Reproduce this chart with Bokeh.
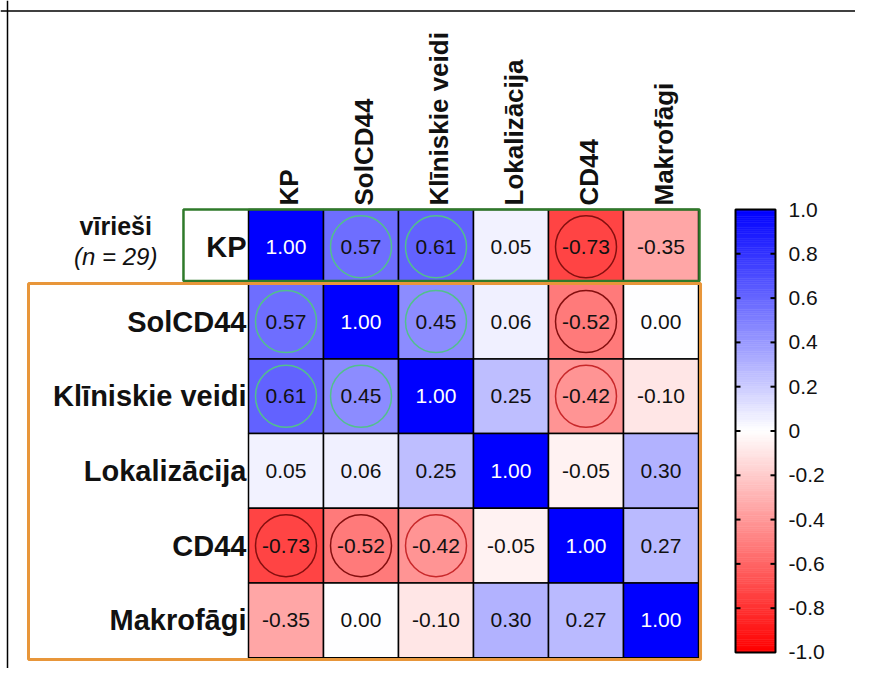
import numpy as np
from bokeh.plotting import figure
from bokeh.models import Range1d, ColumnDataSource, Span, LinearColorMapper
from bokeh.core.properties import value
from bokeh.embed import file_html
from bokeh.resources import INLINE

# ---------------- data ----------------
labels = ["KP", "SolCD44", "Klīniskie veidi", "Lokalizācija", "CD44", "Makrofāgi"]
r_kp = [1.00, 0.57, 0.61, 0.05, -0.73, -0.35]
r_solcd44 = [0.57, 1.00, 0.45, 0.06, -0.52, 0.00]
r_klin = [0.61, 0.45, 1.00, 0.25, -0.42, -0.10]
r_lok = [0.05, 0.06, 0.25, 1.00, -0.05, 0.30]
r_cd44 = [-0.73, -0.52, -0.42, -0.05, 1.00, 0.27]
r_makr = [-0.35, 0.00, -0.10, 0.30, 0.27, 1.00]
matrix = [r_kp, r_solcd44, r_klin, r_lok, r_cd44, r_makr]
# significant pairs (row, col) with circle colour class
sig_pairs = [(0, 1, "pos"), (0, 2, "pos"), (0, 4, "neg1"),
             (1, 2, "pos"), (1, 4, "neg1"), (2, 4, "neg2")]
cbar_ticks = [1.0, 0.8, 0.6, 0.4, 0.2, 0.0, -0.2, -0.4, -0.6, -0.8, -1.0]
cbar_tick_labels = ["1.0", "0.8", "0.6", "0.4", "0.2", "0", "-0.2", "-0.4", "-0.6", "-0.8", "-1.0"]
group_label = "vīrieši"
n_label = "(n = 29)"

# ---------------- layout (in cell units) ----------------
W, H = 855, 668
CW, CH = 75.0, 74.7
GX0, GY0 = 248.0, 209.0  # grid origin inside frame (px)
x0 = -GX0 / CW
x1 = (W - GX0) / CW
ytop = -GY0 / CH
ybot = (H - GY0) / CH

FONT = "Liberation Sans"

# colour map red - white - blue
def rwb(t):
    if t < 0:
        c = int(round(255 * (1 + t)))
        return "#%02x%02x%02x" % (255, c, c)
    c = int(round(255 * (1 - t)))
    return "#%02x%02x%02x" % (c, c, 255)

palette = [rwb(t) for t in np.linspace(-1, 1, 256)]
mapper = LinearColorMapper(palette=palette, low=-1, high=1)

p = figure(width=W, height=H, output_backend="svg", toolbar_location=None,
           x_range=Range1d(x0, x1), y_range=Range1d(ybot, ytop),
           x_axis_location=None, y_axis_location=None, min_border=0)
p.grid.visible = False
p.outline_line_color = None
p.background_fill_color = "white"
p.border_fill_color = "white"

n = len(labels)
xs, ys, rs, txt, tcol = [], [], [], [], []
for i, row in enumerate(matrix):
    for j, v in enumerate(row):
        xs.append(j + 0.5)
        ys.append(i + 0.5)
        rs.append(v)
        txt.append("%.2f" % v)
        tcol.append("white" if v >= 0.95 else "#111111")
cells = ColumnDataSource(dict(x=xs, y=ys, r=rs, t=txt, c=tcol))

p.rect(x="x", y="y", width=1, height=1, source=cells,
       fill_color={"field": "r", "transform": mapper},
       line_color="black", line_width=1.5)

# significance circles (symmetric)
circ_colors = {"pos": "#52c08c", "neg1": "#850f0f", "neg2": "#c8282a"}
cx, cy, cc = [], [], []
for (a, b, k) in sig_pairs:
    for (r_, c_) in ((a, b), (b, a)):
        cx.append(c_ + 0.5)
        cy.append(r_ + 0.5)
        cc.append(circ_colors[k])
p.ellipse(x=cx, y=cy, width=61 / CW, height=62 / CH, fill_color=None,
          line_color=cc, line_width=1.5)

p.text(x="x", y="y", text="t", source=cells, text_color="c",
       text_font=value(FONT), text_font_size="21px",
       text_align="center", text_baseline="middle")

# row labels
p.text(x=[0] * n, y=[i + 0.5 for i in range(n)], text=labels,
       x_offset=-2, text_font=value(FONT), text_font_style="bold",
       text_font_size="29px", text_align="right", text_baseline="middle",
       text_color="#111111")

# column headers (rotated)
p.text(x=[j + 0.5 for j in range(n)], y=[0] * n, text=labels,
       angle=np.pi / 2, x_offset=3, y_offset=-4, text_font=value(FONT),
       text_font_style="bold", text_font_size="26px", text_align="left",
       text_baseline="middle", text_color="#111111")

# group label
p.text(x=[-1.77], y=[0.22], text=[group_label], text_font=value(FONT),
       text_font_style="bold", text_font_size="25px", text_align="center",
       text_baseline="middle", text_color="#111111")
p.text(x=[-1.77], y=[0.63], text=[n_label], text_font=value(FONT),
       text_font_style="italic", text_font_size="24px", text_align="center",
       text_baseline="middle", text_color="#111111")

# group boxes
p.quad(left=[-0.867], right=[6.013], top=[0.0], bottom=[0.957],
       fill_color=None, line_color="#2f7a2a", line_width=2.5)
p.quad(left=[-2.933], right=[6.027], top=[0.99], bottom=[6.024],
       fill_color=None, line_color="#e8963a", line_width=3)

# colour bar
CB_L, CB_R = (735 - GX0) / CW, (775 - GX0) / CW
CB_T, CB_H = 0.0, 5.93

def cb_y(v):
    return CB_T + (1 - v) / 2 * CB_H

edges = np.linspace(1, -1, 201)
grad = ColumnDataSource(dict(top=[cb_y(v) for v in edges[:-1]],
                             bottom=[cb_y(v) for v in edges[1:]],
                             v=list((edges[:-1] + edges[1:]) / 2)))
p.quad(left=CB_L, right=CB_R, top="top", bottom="bottom", source=grad,
       fill_color={"field": "v", "transform": mapper},
       line_color={"field": "v", "transform": mapper}, line_width=0.6)
p.quad(left=[CB_L], right=[CB_R], top=[cb_y(1.0)], bottom=[cb_y(-1.0)],
       fill_color=None, line_color="black", line_width=2)
inner = [t for t in cbar_ticks if abs(t) < 1]
tl = 5 / CW
p.segment(x0=[CB_L] * len(inner), x1=[CB_L + tl] * len(inner),
          y0=[cb_y(t) for t in inner], y1=[cb_y(t) for t in inner],
          line_color="black", line_width=2)
p.segment(x0=[CB_R - tl] * len(inner), x1=[CB_R] * len(inner),
          y0=[cb_y(t) for t in inner], y1=[cb_y(t) for t in inner],
          line_color="black", line_width=2)
p.text(x=[CB_R] * len(cbar_ticks), y=[cb_y(t) for t in cbar_ticks],
       text=cbar_tick_labels, x_offset=13, text_font=value(FONT),
       text_font_size="21px", text_align="left", text_baseline="middle",
       text_color="#111111")

# outer frame (left and top edges)
p.add_layout(Span(location=x0 + 7 / CW, dimension="height",
                  line_color="black", line_width=1.5))
p.add_layout(Span(location=ytop + 10.5 / CH, dimension="width",
                  line_color="black", line_width=1.5))

open("out.html", "w").write(file_html(p, INLINE))
